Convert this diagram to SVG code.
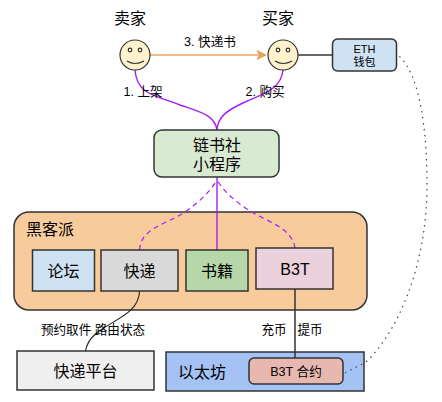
<svg xmlns="http://www.w3.org/2000/svg" width="442" height="402" viewBox="0 0 442 402">
<defs>
<style>
text{font-family:"Liberation Sans","Noto Sans CJK SC",sans-serif;fill:#000;text-anchor:middle}
.s13{font-size:12.600px}.s11{font-size:11px}.s16{font-size:16px}
.box{stroke:#333;stroke-width:1.500}
.face{fill:#fff2cc;stroke:#333;stroke-width:1.200}
.eye{fill:#fff2cc;stroke:#333;stroke-width:1.200}
.smile{fill:none;stroke:#333;stroke-width:1.200}
.p{fill:none;stroke:#a31ef5;stroke-width:1.400}
.pd{fill:none;stroke:#a31ef5;stroke-width:1.200;stroke-dasharray:5 4}
.k{fill:none;stroke:#333;stroke-width:1.500}
</style>
<marker id="ao" viewBox="0 0 10 10" refX="9" refY="5" markerWidth="10" markerHeight="10" orient="auto" markerUnits="userSpaceOnUse"><path d="M0 0.500L9 5L0 9.500L2.500 5Z" fill="#e8a058" stroke="#e8a058"/></marker>
</defs>
<g id="hackers"><rect class="box" x="14" y="212" width="353" height="98" rx="15" fill="#f8cb9c"/><text x="50" y="235" class="s16">黑客派</text></g>
<g id="platform"><rect class="box" x="17" y="351" width="137" height="39" fill="#efefef"/><text x="85.500" y="377" class="s16">快递平台</text></g>
<g id="ethereum"><rect class="box" x="166" y="352" width="198" height="39" fill="#a4c2f4"/><text x="202" y="378" class="s16">以太坊</text></g>
<g id="connectors">
<path d="M150 55H266" fill="none" stroke="#eba65f" stroke-width="1.500" marker-end="url(#ao)"/>
<path class="k" d="M298 55H332"/>
<path class="p" d="M135 70C137 95 155 95 180 105C200 112 215 115 217 130"/>
<path class="p" d="M283 70C281 90 262 94 243 103C228 110 218 116 217 130"/>
<path class="p" d="M217 250V177"/>
<path class="pd" d="M139.500 250C141 228 165 225 185 212C198 203 210 192 217 180"/>
<path class="pd" d="M295 248C292 228 268 222 250 211C236 202 224 192 217 180"/>
<path d="M139.500 291C139 322 90 322 85.500 351" fill="none" stroke="#222" stroke-width="1.100"/>
<path class="k" d="M295 289V358"/>
<path d="M345 373L366 362C395 335 427 270 427 185C427 130 420 75 399 56" fill="none" stroke="#444" stroke-width="1.200" stroke-dasharray="1.500 4.500"/>
</g>
<g id="seller"><text x="130" y="24" class="s16">卖家</text><circle class="face" cx="135" cy="55" r="15"/><circle class="eye" cx="130" cy="50" r="1.800"/><circle class="eye" cx="140" cy="50" r="1.800"/><path class="smile" d="M127 61Q135 66 144 61"/></g>
<g id="buyer"><text x="278" y="24" class="s16">买家</text><circle class="face" cx="283" cy="55" r="15"/><circle class="eye" cx="278" cy="50" r="1.800"/><circle class="eye" cx="288" cy="50" r="1.800"/><path class="smile" d="M275 61Q283 66 292 61"/></g>
<g id="wallet"><rect class="box" x="332.500" y="39" width="64" height="32" rx="5" fill="#cfe2f3"/><text x="364.500" y="53" class="s11">ETH</text><text x="364.500" y="66" class="s11">钱包</text></g>
<g id="miniapp"><rect class="box" x="154" y="130" width="125" height="47" rx="8" fill="#d9ead3"/><text x="217" y="151" class="s16">链书社</text><text x="217" y="170" class="s16">小程序</text></g>
<g id="forum"><rect class="box" x="32.500" y="250" width="62" height="41" fill="#cfe2f3"/><text x="63.500" y="277" class="s16">论坛</text></g>
<g id="express"><rect class="box" x="101" y="250" width="77" height="41" fill="#d9d9d9"/><text x="139.500" y="277" class="s16">快递</text></g>
<g id="books"><rect class="box" x="186" y="250" width="62" height="41" fill="#b6d7a8"/><text x="217" y="277" class="s16">书籍</text></g>
<g id="b3t"><rect class="box" x="256" y="248" width="77" height="41" fill="#ead1dc"/><text x="295" y="275" class="s16">B3T</text></g>
<g id="contract"><rect class="box" x="249" y="358" width="94" height="26" rx="5" fill="#e6b8af"/><text x="296" y="376" class="s13">B3T 合约</text></g>
<g id="labels">
<text x="210" y="46" class="s13">3. 快递书</text>
<text x="143" y="96" class="s13">1. 上架</text>
<text x="265" y="96" class="s13">2. 购买</text>
<text x="93" y="334" class="s13">预约取件 路由状态</text>
<text x="274" y="334" class="s13">充币</text>
<text x="310" y="334" class="s13">提币</text>
</g>
</svg>
